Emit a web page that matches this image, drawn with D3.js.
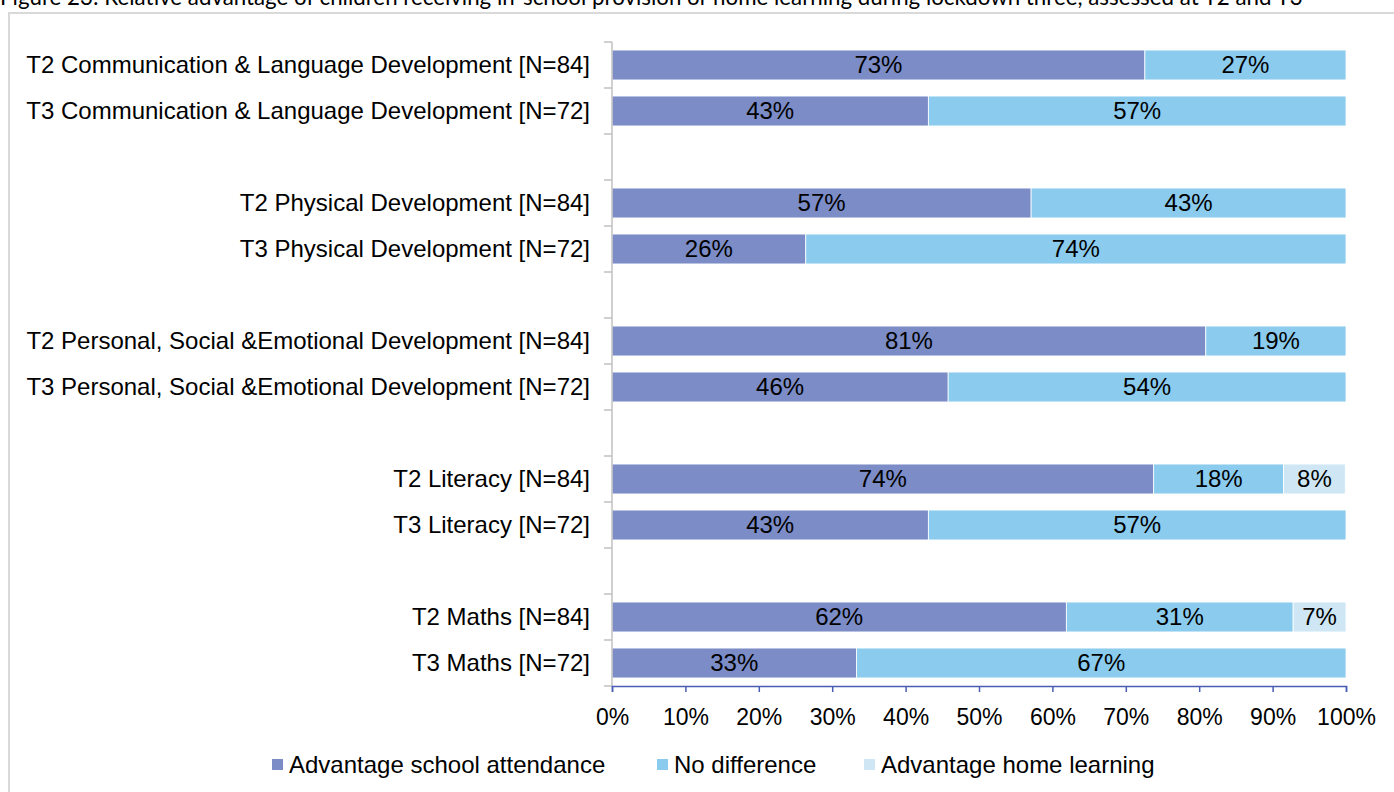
<!DOCTYPE html>
<html>
<head>
<meta charset="utf-8">
<script src="https://cdn.jsdelivr.net/npm/d3@7"></script>
<style>
  body { margin: 0; background: #fff; }
  svg { display: block; }
</style>
</head>
<body>
<svg id="chart"></svg>
<script>
const title = "Figure 23: Relative advantage of children receiving in-school provision or home learning during lockdown three, assessed at T2 and T3";

// rows of the chart, null = empty gap row between groups
const rows = [
    "T2 Communication & Language Development [N=84]",
    "T3 Communication & Language Development [N=72]",
    null,
    "T2 Physical Development [N=84]",
    "T3 Physical Development [N=72]",
    null,
    "T2 Personal, Social &Emotional Development [N=84]",
    "T3 Personal, Social &Emotional Development [N=72]",
    null,
    "T2 Literacy [N=84]",
    "T3 Literacy [N=72]",
    null,
    "T2 Maths [N=84]",
    "T3 Maths [N=72]"
];

const seriesNames = ["Advantage school attendance", "No difference", "Advantage home learning"];
const seriesColors = ["#7b8cc7", "#8acbee", "#cfe7f5"];

// values for the non-empty rows, in order
const school = [72.6, 43.1, 57.1, 26.4, 80.9, 45.8, 73.8, 43.1, 61.9, 33.3];
const noDiff = [27.4, 56.9, 42.9, 73.6, 19.1, 54.2, 17.7, 56.9, 30.9, 66.7];
const home   = [0, 0, 0, 0, 0, 0, 8.4, 0, 7.2, 0];

const xTicks = [0, 10, 20, 30, 40, 50, 60, 70, 80, 90, 100];

const svgWidth = 1394;
const svgHeight = 792;

const svg = d3.select("#chart")
    .attr("width", svgWidth)
    .attr("height", svgHeight);

// outer frame
svg.append("rect")
    .attr("x", 9).attr("y", 13)
    .attr("width", 1390).attr("height", 790)
    .attr("fill", "none")
    .attr("stroke", "#d9d9d9")
    .attr("stroke-width", 2);

svg.append("text")
    .attr("x", 0).attr("y", 5)
    .attr("font-family", "Lato, 'Open Sans', sans-serif")
    .attr("font-size", 22.3)
    .attr("fill", "#000")
    .text(title);

const margin = { top: 42, left: 612, right: 48, bottom: 106 };
const width = svgWidth - margin.left - margin.right;
const height = svgHeight - margin.top - margin.bottom;

const g = svg.append("g")
    .attr("transform", `translate(${margin.left},${margin.top})`);

const x = d3.scaleLinear().domain([0, 100]).range([0, width]);

const y = d3.scaleBand()
    .domain(d3.range(rows.length))
    .range([0, height])
    .paddingInner(0.35)
    .paddingOuter(0.175);

// build stacked data from the arrays
const dataRows = [];
let k = 0;
rows.forEach((r, i) => {
    if (r === null) return;
    dataRows.push({ row: i, vals: [school[k], noDiff[k], home[k]] });
    k++;
});

const font = "Arial, 'Liberation Sans', sans-serif";

dataRows.forEach(d => {
    let x0 = 0;
    d.vals.forEach((v, s) => {
        if (v > 0) {
            g.append("rect")
                .attr("x", x(x0))
                .attr("y", y(d.row))
                .attr("width", x(x0 + v) - x(x0))
                .attr("height", y.bandwidth())
                .attr("fill", seriesColors[s])
                .attr("stroke", "#fff")
                .attr("stroke-width", 0.8);
            g.append("text")
                .attr("x", x(x0 + v / 2))
                .attr("y", y(d.row) + y.bandwidth() / 2)
                .attr("dy", "0.33em")
                .attr("text-anchor", "middle")
                .attr("font-family", font)
                .attr("font-size", 24)
                .attr("fill", "#000")
                .text(Math.round(v) + "%");
        }
        x0 += v;
    });
});

// y axis: line, ticks at band boundaries, labels
g.append("line")
    .attr("x1", 0).attr("x2", 0)
    .attr("y1", 0).attr("y2", height)
    .attr("stroke", "#c0c0c0").attr("stroke-width", 1.5);

d3.range(rows.length + 1).forEach(i => {
    const yy = i * y.step();
    g.append("line")
        .attr("x1", -8).attr("x2", 0)
        .attr("y1", yy).attr("y2", yy)
        .attr("stroke", "#c0c0c0").attr("stroke-width", 1.5);
});

rows.forEach((r, i) => {
    if (r === null) return;
    g.append("text")
        .attr("x", -22)
        .attr("y", y(i) + y.bandwidth() / 2)
        .attr("dy", "0.33em")
        .attr("text-anchor", "end")
        .attr("font-family", font)
        .attr("font-size", 24)
        .attr("fill", "#000")
        .text(r);
});

// x axis
const xAxis = g.append("g")
    .attr("transform", `translate(0,${height})`)
    .call(d3.axisBottom(x).tickValues(xTicks).tickFormat(d => d + "%").tickSize(6).tickPadding(17));

xAxis.select(".domain").attr("stroke", "#4a5db5").attr("stroke-width", 1.5);
xAxis.selectAll(".tick line").attr("stroke", "#4a5db5").attr("stroke-width", 1.5);
xAxis.selectAll(".tick text")
    .attr("font-family", font)
    .attr("font-size", 23)
    .attr("fill", "#000");

// legend
const legendX = [272, 657, 864];
const legend = svg.append("g");
seriesNames.forEach((name, i) => {
    legend.append("rect")
        .attr("x", legendX[i]).attr("y", 759)
        .attr("width", 11).attr("height", 11)
        .attr("fill", seriesColors[i]);
    legend.append("text")
        .attr("x", legendX[i] + 17)
        .attr("y", 765)
        .attr("dy", "0.33em")
        .attr("font-family", font)
        .attr("font-size", 24)
        .attr("fill", "#000")
        .text(name);
});
</script>
</body>
</html>
